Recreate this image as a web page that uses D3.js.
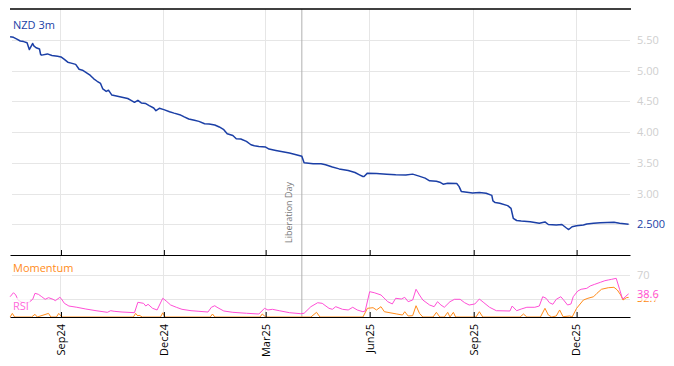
<!DOCTYPE html>
<html><head><meta charset="utf-8">
<script src="https://cdn.jsdelivr.net/npm/d3@7"></script>
<style>body{margin:0;background:#fff}svg{display:block;font-family:"Open Sans",sans-serif}</style>
</head><body><svg id="c" width="674" height="366"></svg>
<script>
// ---------- data ----------
const seriesName = "NZD 3m";
const nzdDates = ["2024-07-18","2024-07-21","2024-07-24","2024-07-27","2024-07-30","2024-08-02","2024-08-04","2024-08-07","2024-08-08","2024-08-10","2024-08-13","2024-08-14","2024-08-15","2024-08-20","2024-08-24","2024-08-29","2024-09-01","2024-09-04","2024-09-07","2024-09-10","2024-09-14","2024-09-17","2024-09-20","2024-09-23","2024-09-27","2024-09-30","2024-10-03","2024-10-06","2024-10-08","2024-10-11","2024-10-13","2024-10-16","2024-10-21","2024-10-25","2024-10-30","2024-11-02","2024-11-05","2024-11-08","2024-11-11","2024-11-15","2024-11-18","2024-11-22","2024-11-24","2024-11-27","2024-12-01","2024-12-06","2024-12-10","2024-12-15","2024-12-19","2024-12-23","2024-12-28","2025-01-01","2025-01-06","2025-01-10","2025-01-15","2025-01-19","2025-01-23","2025-01-26","2025-01-31","2025-02-03","2025-02-07","2025-02-12","2025-02-16","2025-02-19","2025-02-23","2025-03-01","2025-03-04","2025-03-10","2025-03-16","2025-03-22","2025-03-28","2025-04-02","2025-04-04","2025-04-12","2025-04-19","2025-04-23","2025-04-29","2025-05-05","2025-05-13","2025-05-19","2025-05-23","2025-05-26","2025-05-27","2025-05-30","2025-06-07","2025-06-16","2025-06-24","2025-07-03","2025-07-09","2025-07-14","2025-07-20","2025-07-24","2025-07-30","2025-08-02","2025-08-05","2025-08-09","2025-08-17","2025-08-19","2025-08-21","2025-08-26","2025-08-31","2025-09-06","2025-09-12","2025-09-17","2025-09-18","2025-09-20","2025-09-24","2025-10-01","2025-10-04","2025-10-06","2025-10-09","2025-10-13","2025-10-21","2025-10-29","2025-11-03","2025-11-06","2025-11-13","2025-11-18","2025-11-22","2025-11-24","2025-11-27","2025-12-01","2025-12-07","2025-12-10","2025-12-16","2025-12-22","2025-12-28","2026-01-03","2026-01-08","2026-01-16"];
const nzdValues = [5.55,5.54,5.51,5.48,5.47,5.45,5.34,5.44,5.40,5.37,5.35,5.26,5.25,5.27,5.245,5.23,5.22,5.18,5.135,5.12,5.10,5.02,5.005,4.97,4.92,4.865,4.825,4.79,4.70,4.66,4.68,4.60,4.58,4.565,4.545,4.515,4.483,4.515,4.473,4.462,4.43,4.39,4.347,4.385,4.364,4.33,4.307,4.282,4.245,4.212,4.19,4.173,4.135,4.13,4.114,4.082,4.038,3.972,3.944,3.891,3.886,3.847,3.793,3.776,3.765,3.755,3.723,3.70,3.679,3.657,3.63,3.605,3.50,3.483,3.483,3.467,3.43,3.40,3.374,3.341,3.303,3.276,3.276,3.331,3.325,3.315,3.303,3.30,3.315,3.287,3.25,3.206,3.20,3.184,3.152,3.168,3.161,3.116,3.034,3.021,3.01,3.018,3.005,2.969,2.879,2.852,2.842,2.803,2.757,2.597,2.561,2.553,2.542,2.515,2.537,2.496,2.488,2.496,2.439,2.414,2.46,2.475,2.488,2.504,2.515,2.525,2.528,2.532,2.515,2.50];

const rsiDates = ["2024-07-18","2024-07-21","2024-07-23","2024-07-25","2024-07-28","2024-08-01","2024-08-04","2024-08-07","2024-08-09","2024-08-12","2024-08-15","2024-08-18","2024-08-21","2024-08-25","2024-08-27","2024-08-31","2024-09-01","2024-09-04","2024-09-08","2024-09-15","2024-09-23","2024-10-02","2024-10-12","2024-10-15","2024-10-18","2024-10-25","2024-11-05","2024-11-08","2024-11-13","2024-11-15","2024-11-17","2024-11-21","2024-11-25","2024-11-30","2024-12-03","2024-12-07","2024-12-12","2024-12-17","2024-12-25","2025-01-01","2025-01-09","2025-01-12","2025-01-15","2025-01-17","2025-01-23","2025-01-31","2025-02-12","2025-02-23","2025-02-28","2025-03-03","2025-03-07","2025-03-13","2025-03-22","2025-04-01","2025-04-04","2025-04-10","2025-04-16","2025-04-20","2025-04-26","2025-04-29","2025-05-02","2025-05-08","2025-05-13","2025-05-17","2025-05-21","2025-05-26","2025-05-28","2025-06-01","2025-06-05","2025-06-11","2025-06-17","2025-06-21","2025-06-24","2025-06-29","2025-07-02","2025-07-05","2025-07-09","2025-07-12","2025-07-15","2025-07-18","2025-07-24","2025-07-28","2025-07-31","2025-08-03","2025-08-06","2025-08-11","2025-08-15","2025-08-20","2025-08-24","2025-08-28","2025-09-02","2025-09-06","2025-09-10","2025-09-15","2025-09-21","2025-10-03","2025-10-05","2025-10-09","2025-10-13","2025-10-18","2025-10-25","2025-10-29","2025-11-01","2025-11-04","2025-11-07","2025-11-10","2025-11-13","2025-11-17","2025-11-19","2025-11-23","2025-11-26","2025-11-28","2025-12-02","2025-12-05","2025-12-10","2025-12-13","2025-12-17","2025-12-22","2025-12-26","2025-12-29","2026-01-01","2026-01-05","2026-01-08","2026-01-10","2026-01-11","2026-01-13","2026-01-16"];
const rsiValues = [33.8,40.5,36.7,28.3,25,23,25,29.5,39.5,37.8,33.8,29.5,32.2,29.5,27.2,32.8,31.2,22.8,18.3,16.2,13.3,10.5,7.8,10.5,9.5,8.3,7.2,24.5,22.8,18.3,21.2,14.5,11.7,31.2,26.7,20,16.2,12.8,10.5,9.5,8.3,16.2,18.8,16.2,10,7.8,6.2,5,14.5,11.7,12.8,10.5,7.2,5.5,6.2,17.2,23.8,22.8,14.5,12.8,17.2,12.8,11.7,16.2,11.7,8.8,10,42.2,40.5,36.7,25.5,21.7,31.2,30,32.8,25.5,28.3,46.2,36.7,28.3,20,17.2,25.5,20,16.2,25.5,29.5,29.5,23.8,20,21.7,30,23.8,16.2,10.5,10,18.3,10.5,13.3,16.2,16.2,18.3,33.8,31.2,23.8,21.2,29.5,33.8,29.5,20,21.7,33.8,43.3,46.2,47.8,51.7,54.5,57.8,60.5,61.7,62.8,64.5,46.2,33.8,30,33.8,38.6];

const momDates = ["2024-07-18","2024-07-20","2024-07-22","2024-08-06","2024-08-09","2024-08-11","2024-08-21","2024-08-23","2024-08-28","2024-08-30","2024-09-02","2024-11-04","2024-11-06","2024-11-08","2024-11-09","2024-11-12","2024-11-28","2024-11-30","2024-12-02","2025-01-11","2025-01-13","2025-01-15","2025-02-24","2025-02-26","2025-03-01","2025-04-10","2025-04-15","2025-04-18","2025-05-26","2025-05-30","2025-06-04","2025-06-07","2025-06-11","2025-06-14","2025-06-25","2025-06-30","2025-07-02","2025-07-05","2025-07-09","2025-07-12","2025-07-15","2025-07-18","2025-07-27","2025-07-30","2025-08-02","2025-08-06","2025-08-09","2025-08-11","2025-08-14","2025-08-16","2025-09-03","2025-09-06","2025-09-09","2025-10-12","2025-10-15","2025-10-18","2025-10-30","2025-11-03","2025-11-06","2025-11-09","2025-11-13","2025-11-16","2025-11-19","2025-11-25","2025-11-27","2025-12-01","2025-12-07","2025-12-11","2025-12-16","2025-12-19","2025-12-23","2025-12-29","2026-01-03","2026-01-06","2026-01-09","2026-01-11","2026-01-14","2026-01-16"];
const momValues = [0,6,0,0,4.5,0,6,0,0,6,0,0,6,1.7,3,0,0,7,0,0,5,0,0,5,0,0,7.8,0,0,14.5,15.5,11.7,17.2,8.8,5,3.3,8.8,1.7,2.2,18.8,6.2,0,0,7.8,0,0,7.8,0,7.8,0,0,8.8,0,0,5,0,0,14.5,3.3,0,1.7,11.7,0.5,1.7,0,14.5,28.3,31.2,33.8,39.5,46.2,48.8,49.5,45,36.7,28.3,32.2,32.7];

const xTickDates = ["2024-09-01","2024-12-01","2025-03-01","2025-06-01","2025-09-01","2025-12-01"];
const yTickValues = [2.5,3.0,3.5,4.0,4.5,5.0,5.5];
const indTickValues = [70,30];
const indTickLabels = ["70",""];
const eventDate = "2025-04-02";
const eventLabel = "Liberation Day";
const momLabel = "Momentum", rsiLabel = "RSI";

// ---------- drawing ----------
const parse = d3.utcParse("%Y-%m-%d");
const svg = d3.select("#c");
const L = 10, R = 630, T = 9, M = 255, B = 317;
const blue = "#1b3fa6", pink = "#ff4fd6", orange = "#ff8c1a", grid = "#e6e6e6";

const x = d3.scaleUtc().domain([new Date(Date.UTC(2024,6,17,22)), new Date(Date.UTC(2026,0,17,5))]).range([L, R]);
const yT = d3.scaleLinear().domain([2, 6]).range([M, T]);
const yB = d3.scaleLinear().domain([0, 100]).range([B, B - 60]);

const nzd = nzdDates.map((d,i)=>({date:parse(d), v:nzdValues[i]}));
const rsi = rsiDates.map((d,i)=>({date:parse(d), v:rsiValues[i]}));
const mom = momDates.map((d,i)=>({date:parse(d), v:momValues[i]}));
const xt = xTickDates.map(parse);
const lastN = nzd[nzd.length-1].v, lastR = rsi[rsi.length-1].v, lastM = mom[mom.length-1].v;

// vertical grid
svg.append("g").selectAll("line").data(xt).join("line")
  .attr("x1", d=>x(d)).attr("x2", d=>x(d)).attr("y1", T).attr("y2", B)
  .attr("stroke", grid).attr("stroke-width", 1).attr("shape-rendering","crispEdges");

// top y axis/grid (the tick label hidden under the last-value label is left blank)
const gy = svg.append("g").attr("transform", `translate(${R},0)`)
  .call(d3.axisRight(yT).tickValues(yTickValues)
    .tickFormat(d => Math.abs(yT(d) - yT(lastN)) < 8 ? "" : d3.format(".2f")(d))
    .tickSize(-(R-12)).tickPadding(7));
gy.select(".domain").remove();
gy.selectAll(".tick line").attr("stroke", grid).attr("shape-rendering","crispEdges");
gy.selectAll(".tick text").attr("fill", "#cfcfcf").style("font-size","11px").style("font-family","Open Sans");

// lower y grid
const gy2 = svg.append("g").attr("transform", `translate(${R},0)`)
  .call(d3.axisRight(yB).tickValues(indTickValues).tickFormat((d,i)=>indTickLabels[i]).tickSize(-(R-12)).tickPadding(7));
gy2.select(".domain").remove();
gy2.selectAll(".tick line").attr("stroke", grid).attr("shape-rendering","crispEdges");
gy2.selectAll(".tick text").attr("fill", "#cfcfcf").style("font-size","11px").style("font-family","Open Sans");

// event line
const ex = x(parse(eventDate));
svg.append("line").attr("x1", ex).attr("x2", ex).attr("y1", T).attr("y2", B)
  .attr("stroke", "#b0b0b0").attr("stroke-width", 1);
svg.append("text").attr("transform", `translate(${ex-13},243) rotate(-90)`)
  .attr("dy","0.35em").attr("text-anchor","start").attr("fill","#777")
  .style("font-size","9px").text(eventLabel);

// lines
svg.append("path").datum(nzd).attr("fill","none").attr("stroke",blue).attr("stroke-width",1.5)
  .attr("stroke-linejoin","round").attr("d", d3.line().x(d=>x(d.date)).y(d=>yT(d.v)));
svg.append("path").datum(mom).attr("fill","none").attr("stroke",orange).attr("stroke-width",1)
  .attr("d", d3.line().x(d=>x(d.date)).y(d=>yB(d.v)));
svg.append("path").datum(rsi).attr("fill","none").attr("stroke",pink).attr("stroke-width",1)
  .attr("d", d3.line().x(d=>x(d.date)).y(d=>yB(d.v)));

// axes lines
svg.append("line").attr("x1",L).attr("x2",R+1).attr("y1",T).attr("y2",T).attr("stroke","#000").attr("stroke-width",1.3);
const gm = svg.append("g").attr("transform",`translate(0,${M})`)
  .call(d3.axisTop(x).tickValues(xt).tickFormat("").tickSize(5).tickSizeOuter(0));
gm.selectAll("path,line").attr("stroke","#000");
const gb = svg.append("g").attr("transform",`translate(0,${B})`)
  .call(d3.axisTop(x).tickValues(xt).tickFormat("").tickSize(5).tickSizeOuter(0));
gb.selectAll("path,line").attr("stroke","#000");
svg.append("g").selectAll("text").data(xt).join("text")
  .attr("transform", d=>`translate(${x(d)},324) rotate(-90)`)
  .attr("dy","0.35em").attr("text-anchor","end").attr("fill","#000")
  .style("font-size","11px").text(d=>d3.utcFormat("%b%y")(d));

// labels
function label(txt, px, py, color, anchor, op) {
  const t = svg.append("text").attr("x",px).attr("y",py).attr("dy","0.35em")
    .attr("text-anchor",anchor||"start").attr("fill",color).style("font-size","11px").text(txt);
  const bb = t.node().getBBox();
  svg.insert("rect", () => t.node()).attr("x",bb.x-1).attr("y",bb.y).attr("width",bb.width+2).attr("height",bb.height)
    .attr("fill","#fff").attr("opacity", op==null?0.75:op);
  return t;
}
label(seriesName, 13, 25, blue);
label(momLabel, 13, 268, orange);
label(rsiLabel, 13, 306, pink).attr("opacity",0.85);
label(d3.format(".3f")(lastN), 637, yT(lastN), blue, "start", 1);
label(d3.format(".1f")(lastM), 637, yB(lastM)+1, orange, "start", 0.3);
label(d3.format(".1f")(lastR), 637, yB(lastR), pink, "start", 0.7);
</script></body></html>
